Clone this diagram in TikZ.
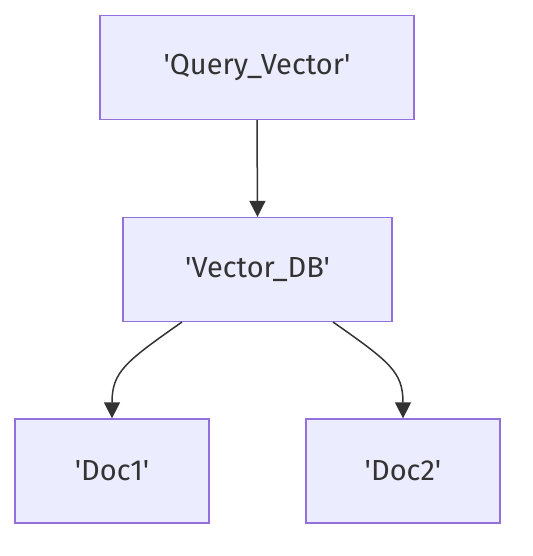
\documentclass[tikz,border=0pt]{standalone}
\usepackage{fontspec}
\newfontfamily\lab{Fira Sans}
\usetikzlibrary{arrows.meta}
\definecolor{nodefill}{HTML}{ECECFF}
\definecolor{nodeline}{HTML}{9370DB}
\definecolor{ink}{HTML}{333333}
\begin{document}
\begin{tikzpicture}[x=1pt,y=-1pt,
  box/.style={draw=nodeline, fill=nodefill, line width=1.3pt, inner sep=0pt,
    text=ink, font=\lab\fontsize{29}{33}\selectfont, minimum height=104pt},
  link/.style={draw=ink, line width=1.5pt, -{Triangle[length=16pt,width=16pt]}}]
\useasboundingbox (0,0) rectangle (532,556);
\node[box, minimum width=314pt] (q) at (257,67.5) {'Query\_Vector'};
\node[box, minimum width=269pt] (v) at (257.5,269.5) {'Vector\_DB'};
\node[box, minimum width=194pt] (d1) at (112,471) {'Doc1'};
\node[box, minimum width=194pt] (d2) at (403,471) {'Doc2'};
\coordinate (vl) at (182,322);
\coordinate (vr) at (333,322);
\draw[link] (q.south) -- (v.north);
\draw[link] (vl) .. controls (125,362) and (112,372) .. (d1.north);
\draw[link] (vr) .. controls (390,362) and (403,372) .. (d2.north);
\end{tikzpicture}
\end{document}
